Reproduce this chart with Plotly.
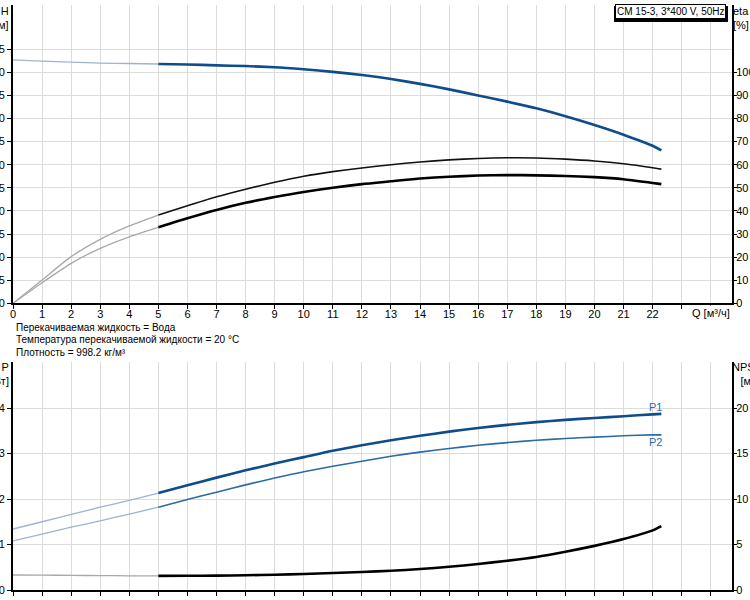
import plotly.graph_objects as go

# ---------------- data ----------------
q_faded = [0, 1, 2, 3, 4, 5]
q_main = [5, 6, 7, 8, 9, 10, 11, 12, 13, 14, 15, 16, 17, 18, 19, 20, 21, 22, 22.3]

h_faded = [52.7, 52.4, 52.2, 52.0, 51.9, 51.8]
h_main = [51.8, 51.7, 51.5, 51.35, 51.1, 50.65, 50.1, 49.4, 48.55, 47.5, 46.3, 45.0,
          43.65, 42.2, 40.5, 38.6, 36.5, 34.1, 33.1]

eta1_faded = [0, 10.1, 20.2, 27.7, 33.5, 38.2]
eta1_main = [38.2, 42.2, 46.1, 49.4, 52.4, 55.0, 57.0, 58.6, 60.0, 61.2, 62.1, 62.7,
             63.0, 62.9, 62.4, 61.6, 60.4, 58.7, 58.1]
eta2_faded = [0, 8.9, 17.3, 23.8, 28.8, 32.9]
eta2_main = [32.9, 36.8, 40.4, 43.5, 46.0, 48.2, 50.0, 51.6, 52.8, 54.0, 54.8, 55.3,
             55.5, 55.4, 55.1, 54.6, 53.7, 52.1, 51.6]

p1_faded = [1.34, 1.50, 1.66, 1.82, 1.97, 2.13]
p1_main = [2.13, 2.30, 2.47, 2.63, 2.78, 2.92, 3.06, 3.18, 3.29, 3.39, 3.48, 3.56,
           3.63, 3.69, 3.74, 3.78, 3.82, 3.86, 3.87]
p2_faded = [1.08, 1.23, 1.38, 1.52, 1.67, 1.82]
p2_main = [1.82, 1.99, 2.15, 2.31, 2.46, 2.60, 2.72, 2.83, 2.94, 3.03, 3.11, 3.18,
           3.24, 3.29, 3.33, 3.36, 3.39, 3.41, 3.41]

npsh_faded = [1.65, 1.63, 1.61, 1.58, 1.56, 1.55]
npsh_main = [1.55, 1.56, 1.58, 1.62, 1.68, 1.76, 1.86, 1.98, 2.12, 2.30, 2.55, 2.86,
             3.22, 3.63, 4.20, 4.85, 5.60, 6.55, 7.03]

q_ticks = list(range(0, 25))
q_ticktext = [str(v) for v in range(0, 23)] + ["", ""]
h_ticks = list(range(0, 60, 5))
eta_ticks = list(range(0, 110, 10))
p_ticks = [0, 1, 2, 3, 4]
npsh_ticks = [0, 5, 10, 15, 20]

info_lines = ["Перекачиваемая жидкость = Вода",
              "Температура перекачиваемой жидкости = 20 °C",
              "Плотность = 998.2 кг/м³"]
title_box = "CM 15-3, 3*400 V, 50Hz"
q_label = "Q [м³/ч]"

# ---------------- figure ----------------
W, H = 750, 600
ML, MR, MT, MB = 13, 18, 5, 10
PW, PH = W - ML - MR, H - MT - MB


def px_x(px):
    return (px - ML) / PW


def px_y(py):
    return (H - MB - py) / PH


BLUE = "#0f4c8c"
BLUE2 = "#2a6aa8"
FADE_BLUE = "#9fb3cf"
FADE_GRAY = "#a8a8a8"
FONT = "Arial, Liberation Sans, sans-serif"

fig = go.Figure()

def add(x, y, color, width, xa, ya):
    fig.add_trace(go.Scatter(x=x, y=y, mode="lines",
                             line=dict(color=color, width=width, shape="spline", smoothing=0.6),
                             xaxis=xa, yaxis=ya, showlegend=False, hoverinfo="skip"))

# top chart
add(q_faded, h_faded, FADE_BLUE, 1.3, "x", "y")
add(q_main, h_main, BLUE, 2.6, "x", "y")
add(q_faded, eta1_faded, FADE_GRAY, 1.3, "x", "y2")
add(q_main, eta1_main, "#111111", 1.6, "x", "y2")
add(q_faded, eta2_faded, FADE_GRAY, 1.3, "x", "y2")
add(q_main, eta2_main, "#000000", 2.6, "x", "y2")

# bottom chart
add(q_faded, p1_faded, FADE_BLUE, 1.3, "x2", "y3")
add(q_main, p1_main, BLUE, 2.6, "x2", "y3")
add(q_faded, p2_faded, FADE_BLUE, 1.3, "x2", "y3")
add(q_main, p2_main, BLUE2, 1.6, "x2", "y3")
add(q_faded, npsh_faded, FADE_GRAY, 1.3, "x2", "y4")
add(q_main, npsh_main, "#000000", 2.6, "x2", "y4")

top_lo = px_y(303.3)
bot_hi = px_y(362)
q_max = 24.73

tickfont = dict(family=FONT, size=11, color="black")
grid = "#dcdcdc"

common = dict(showline=True, linecolor="black", linewidth=2, ticks="outside", ticklen=4,
              tickcolor="black", zeroline=False, automargin=False)
right = dict(common, ticklen=3)

fig.update_layout(
    width=W, height=H,
    margin=dict(l=ML, r=MR, t=MT, b=MB, pad=0, autoexpand=False),
    paper_bgcolor="white", plot_bgcolor="white",
    font=dict(family=FONT, size=11, color="black"),
    xaxis=dict(domain=[0, 1], range=[0, q_max], anchor="y", tickvals=q_ticks, ticktext=q_ticktext,
               showgrid=True, gridcolor=grid, gridwidth=1, tickfont=tickfont,
               ticklabelstandoff=-5, **common),
    yaxis=dict(domain=[top_lo, 1], range=[0, 298.3 / 4.62], tickvals=h_ticks, showgrid=True,
               gridcolor=grid, tickfont=tickfont, **common),
    yaxis2=dict(overlaying="y", side="right", anchor="x", range=[0, 2 * 298.3 / 4.62],
                tickvals=eta_ticks, showgrid=False, tickfont=tickfont, ticklabelstandoff=-3,
                **right),
    xaxis2=dict(domain=[0, 1], range=[0, q_max], anchor="y3", tickvals=q_ticks,
                showticklabels=False, showgrid=True, gridcolor=grid, **common),
    yaxis3=dict(domain=[0, bot_hi], range=[0, 228 / 45.5], tickvals=p_ticks, showgrid=True,
                gridcolor=grid, tickfont=tickfont, anchor="x2", **common),
    yaxis4=dict(overlaying="y3", side="right", anchor="x2", range=[0, 5 * 228 / 45.5],
                tickvals=npsh_ticks, showgrid=False, tickfont=tickfont, ticklabelstandoff=-3,
                **right),
)

ann = []
def A(text, px, py, xanchor="left", yanchor="middle", align="left", color="black", size=11, **kw):
    ann.append(dict(text=text, x=px_x(px), y=px_y(py), xref="paper", yref="paper",
                    xanchor=xanchor, yanchor=yanchor, align=align, showarrow=False,
                    font=dict(family=FONT, size=size, color=color), **kw))

A("H<br>[м]", 11, 3, xanchor="right", yanchor="top", align="right")
A("eta<br>[%]", 731, 3, xanchor="left", yanchor="top", align="left")
for i, line in enumerate(info_lines):
    A(line, 14, 327 + i * 12.5, xanchor="left", size=10)
A("P<br>[кВт]", 11, 359, xanchor="right", yanchor="top", align="right")
A("NPSH<br>[м]", 730, 359, xanchor="left", yanchor="top", align="center")
A("P1", 655, 407, xanchor="center", color=BLUE2)
A("P2", 655, 442, xanchor="center", color=BLUE2)
A(title_box, 726, 4, xanchor="right", yanchor="top", bgcolor="white", bordercolor="black",
  borderwidth=1, borderpad=1, size=10)

# x-axis title placed in data coordinates of the top x axis
ann.append(dict(text=q_label, x=23.3, y=px_y(313), xref="x", yref="paper",
                xanchor="left", yanchor="middle", showarrow=False, bgcolor="white",
                font=dict(family=FONT, size=11, color="black")))

fig.update_layout(annotations=ann)

# drop shadow of the title box
fig.add_shape(type="rect", xref="paper", yref="paper", x0=px_x(614), x1=px_x(728),
              y0=px_y(22), y1=px_y(6), fillcolor="black", line=dict(width=0), layer="above")

fig.write_html("out.html")
